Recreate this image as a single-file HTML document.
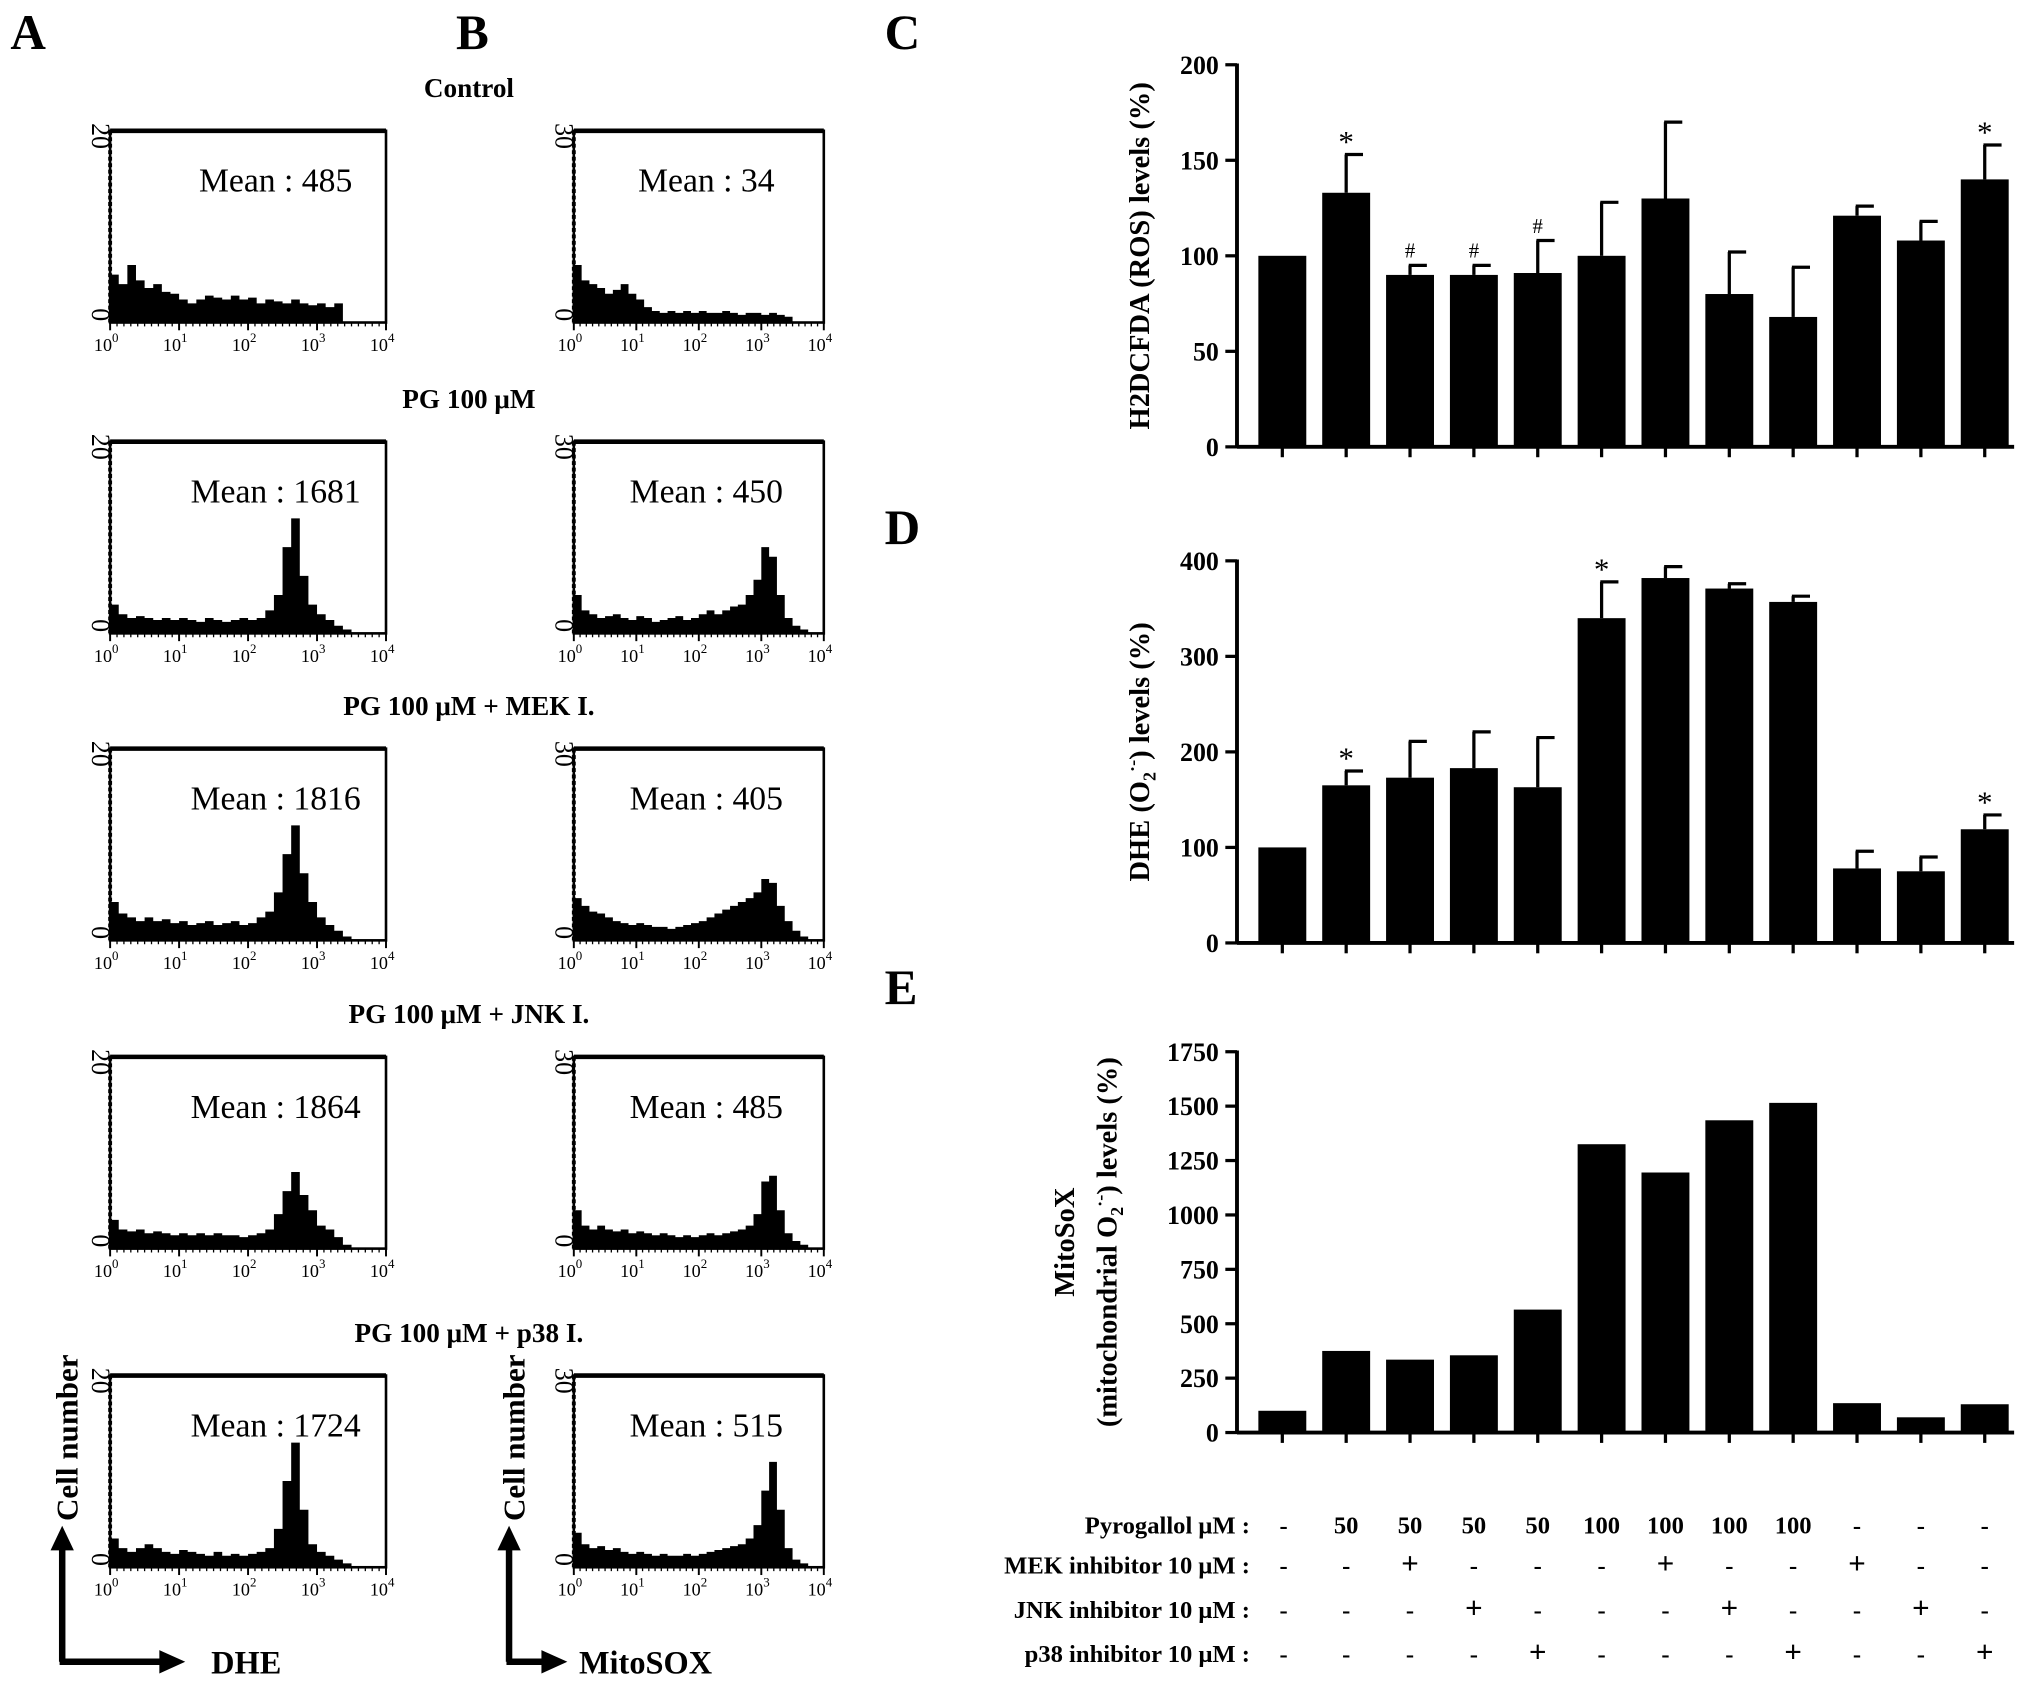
<!DOCTYPE html>
<html><head><meta charset="utf-8"><style>
html,body{margin:0;padding:0;background:#fff}
svg{display:block}
text{font-family:"Liberation Serif",serif;fill:#000}
</style></head><body>
<svg id="fig" width="2031" height="1689" viewBox="0 0 1568 1304" xmlns="http://www.w3.org/2000/svg">
<g font-weight="bold" font-size="38">
<text x="8" y="38">A</text>
<text x="352" y="38">B</text>
<text x="683" y="38">C</text>
<text x="683" y="420">D</text>
<text x="683" y="775">E</text>
</g>
<g id="hist"></g>
<g id="bars"></g>
<g id="table" font-weight="bold" font-size="19"></g>
</svg>
<script>
const NS='http://www.w3.org/2000/svg';
function el(tag,attrs,parent,txt){const e=document.createElementNS(NS,tag);for(const k in attrs)e.setAttribute(k,attrs[k]);if(txt!==undefined)e.textContent=txt;parent.appendChild(e);return e;}

// ---------- Histogram data (bin heights as fraction of box height, 32 bins over 10^0..10^4) ----------
const rowTitles=['Control','PG 100 μM','PG 100 μM + MEK I.','PG 100 μM + JNK I.','PG 100 μM + p38 I.'];
const dheMeans=[485,1681,1816,1864,1724];
const mitoMeans=[34,450,405,485,515];
const dheHist=[
[0.25,0.2,0.3,0.22,0.18,0.2,0.16,0.15,0.12,0.1,0.12,0.14,0.13,0.12,0.14,0.12,0.13,0.1,0.12,0.11,0.1,0.12,0.1,0.09,0.1,0.08,0.1,0,0,0,0,0],
[0.15,0.1,0.08,0.09,0.08,0.07,0.08,0.07,0.08,0.07,0.06,0.08,0.07,0.06,0.07,0.08,0.07,0.08,0.12,0.2,0.45,0.6,0.3,0.15,0.1,0.07,0.04,0.02,0,0,0,0],
[0.2,0.14,0.12,0.1,0.12,0.1,0.11,0.09,0.1,0.08,0.09,0.1,0.08,0.09,0.1,0.08,0.09,0.12,0.15,0.25,0.45,0.6,0.35,0.2,0.12,0.08,0.05,0.02,0,0,0,0],
[0.15,0.1,0.09,0.1,0.08,0.09,0.08,0.07,0.08,0.07,0.08,0.07,0.08,0.07,0.07,0.06,0.07,0.08,0.1,0.18,0.3,0.4,0.28,0.2,0.12,0.1,0.06,0.02,0,0,0,0],
[0.15,0.1,0.08,0.1,0.12,0.1,0.08,0.07,0.09,0.08,0.07,0.06,0.08,0.06,0.07,0.06,0.07,0.08,0.1,0.2,0.45,0.65,0.3,0.12,0.08,0.06,0.04,0.02,0,0,0,0]
];
const mitoHist=[
[0.3,0.22,0.2,0.18,0.15,0.17,0.2,0.15,0.12,0.08,0.06,0.05,0.06,0.05,0.06,0.05,0.06,0.05,0.05,0.06,0.05,0.04,0.05,0.05,0.04,0.05,0.04,0.03,0,0,0,0],
[0.2,0.12,0.1,0.08,0.09,0.1,0.08,0.07,0.09,0.08,0.06,0.07,0.08,0.09,0.07,0.08,0.1,0.12,0.1,0.12,0.14,0.15,0.2,0.28,0.45,0.4,0.2,0.08,0.04,0.02,0,0],
[0.22,0.18,0.15,0.14,0.12,0.1,0.09,0.08,0.09,0.08,0.07,0.07,0.06,0.07,0.08,0.09,0.1,0.12,0.14,0.16,0.18,0.2,0.22,0.25,0.32,0.3,0.18,0.1,0.05,0.02,0,0],
[0.2,0.12,0.1,0.12,0.1,0.09,0.1,0.08,0.09,0.08,0.07,0.08,0.07,0.06,0.07,0.06,0.07,0.08,0.07,0.08,0.09,0.1,0.12,0.18,0.35,0.38,0.2,0.08,0.04,0.02,0,0],
[0.18,0.12,0.1,0.11,0.09,0.1,0.08,0.07,0.08,0.07,0.06,0.07,0.06,0.06,0.07,0.06,0.07,0.08,0.09,0.1,0.11,0.12,0.15,0.22,0.4,0.55,0.3,0.1,0.04,0.02,0,0]
];
const xTickExp=['0','1','2','3','4'];
const boxTops=[101,341,578,816,1062];
const boxH=148;
const colA={x0:85,x1:298,ymax:'20',mx:0.6}, colB={x0:443,x1:636,ymax:'30',mx:0.53};

const hg=document.getElementById('hist');
function drawHist(col,top,vals,mean,name){
  const g=el('g',{},hg);
  
  
  const w=col.x1-col.x0, n=vals.length, bot=top+boxH;
  let d='M'+col.x0+','+bot;
  vals.forEach((v,i)=>{const xa=col.x0+w*i/n, xb=col.x0+w*(i+1)/n, y=bot-v*boxH;d+=' L'+xa+','+y+' L'+xb+','+y;});
  d+=' L'+col.x1+','+bot+' Z';
  const p=el('path',{d:d,fill:'#000'},g);
  
  const r=el('rect',{x:col.x0,y:top,width:w,height:boxH,fill:'none',stroke:'#000','stroke-width':2},g);
  
  el('line',{x1:col.x0,y1:top,x2:col.x1,y2:top,stroke:'#000','stroke-width':3.5},g);
  el('line',{x1:col.x0,y1:top,x2:col.x0,y2:bot,stroke:'#000','stroke-width':3,'stroke-dasharray':'3,2'},g);
  const t=el('text',{x:col.x0+w*col.mx,y:top+47,'font-size':26,'text-anchor':'middle'},g,'Mean : '+mean);
  
  const yl=el('text',{x:0,y:0,'font-size':20,transform:'translate('+(col.x0-14)+','+(top+4)+') rotate(90)','text-anchor':'middle'},g,col.ymax);
  
  const y0=el('text',{x:0,y:0,'font-size':20,transform:'translate('+(col.x0-14)+','+(bot-6)+') rotate(90)','text-anchor':'middle'},g,'0');
  
  xTickExp.forEach((e,i)=>{
    const x=col.x0+w*i/4;
    el('line',{x1:x,y1:bot,x2:x,y2:bot+6,stroke:'#000','stroke-width':1.5},g);
    const tx=el('text',{x:x-3,y:bot+22,'font-size':14,'text-anchor':'middle'},g);
    
    el('tspan',{},tx,'10');el('tspan',{'font-size':10,dy:-7},tx,e);
  });
  for(let i=0;i<40;i++){const x=col.x0+w*i/40;el('line',{x1:x,y1:bot,x2:x,y2:bot+3,stroke:'#000','stroke-width':1},g);}
}
rowTitles.forEach((t,i)=>{
  const tt=el('text',{x:362,y:boxTops[i]-26,'font-size':21,'font-weight':'bold','text-anchor':'middle'},hg,t);
  
  drawHist(colA,boxTops[i],dheHist[i],dheMeans[i],'dhe-histogram');
  drawHist(colB,boxTops[i],mitoHist[i],mitoMeans[i],'mitosox-histogram');
});
// axis arrows
function arrowAxes(x,len,label,lx){
  const g=el('g',{},hg);
  
  el('path',{d:'M'+x+',1283 L'+x+',1195 M'+(x-2)+',1283 L'+(x+len-18)+',1283',stroke:'#000','stroke-width':5,fill:'none'},g);
  el('path',{d:'M'+(x-9)+',1197 L'+x+',1178 L'+(x+9)+',1197 Z',fill:'#000'},g);
  el('path',{d:'M'+(x+len-20)+',1274 L'+(x+len)+',1283 L'+(x+len-20)+',1292 Z',fill:'#000'},g);
  const c=el('text',{x:0,y:0,'font-size':24,'font-weight':'bold',transform:'translate('+(x+12)+',1110) rotate(-90)','text-anchor':'middle'},g,'Cell number');
  
  const l=el('text',{x:lx,y:1292,'font-size':25,'font-weight':'bold'},g,label);
  
}
arrowAxes(48,95,'DHE',163);
arrowAxes(393,45,'MitoSOX',447);

// ---------- Bar charts ----------
const conditions=['Control','PG50','PG50+MEK','PG50+JNK','PG50+p38','PG100','PG100+MEK','PG100+JNK','PG100+p38','MEK','JNK','p38'];
const rosVals=[100,133,90,90,91,100,130,80,68,121,108,140];
const rosErr=[0,20,5,5,17,28,40,22,26,5,10,18];
const rosMarks=['','*','#','#','#','','','','','','','*'];
const dheVals=[100,165,173,183,163,340,382,371,357,78,75,119];
const dheErr=[0,15,38,38,52,38,12,5,6,18,15,15];
const dheMarks=['','*','','','','*','','','','','','*'];
const mitoVals=[100,375,335,355,565,1325,1195,1435,1515,135,70,130];
const rosTicks=[0,50,100,150,200];
const dheTicks=[0,100,200,300,400];
const mitoTicks=[0,250,500,750,1000,1250,1500,1750];

const bg=document.getElementById('bars');
const axX0=955, axX1=1555;
function xCenter(i){return 990+i*49.3;}
function drawBars(cfg){
  const g=el('g',{},bg);
  
  const max=cfg.ticks[cfg.ticks.length-1];
  const yS=v=>cfg.y0-(v/max)*(cfg.y0-cfg.yTop);
  cfg.vals.forEach((v,i)=>{
    const cx=xCenter(i), bw=37;
    if(cfg.err&&cfg.err[i]>0){
      const ye=yS(v+cfg.err[i]);
      el('line',{x1:cx,y1:yS(v),x2:cx,y2:ye,stroke:'#000','stroke-width':2.5},g);
      el('line',{x1:cx-1,y1:ye,x2:cx+13,y2:ye,stroke:'#000','stroke-width':2.5},g);
    }
    const b=el('rect',{x:cx-bw/2,y:yS(v),width:bw,height:cfg.y0-yS(v),fill:'#000'},g);
    
    if(cfg.marks&&cfg.marks[i]){
      const top=yS(v+(cfg.err?cfg.err[i]:0));
      const m=el('text',{x:cx,y:top-(cfg.marks[i]==='*'?2:6),'font-size':cfg.marks[i]==='*'?24:16,'text-anchor':'middle'},g,cfg.marks[i]);
      
    }
    el('line',{x1:cx,y1:cfg.y0,x2:cx,y2:cfg.y0+8,stroke:'#000','stroke-width':2.5},g);
  });
  el('line',{x1:axX0,y1:cfg.yTop-1,x2:axX0,y2:cfg.y0,stroke:'#000','stroke-width':3},g);
  el('line',{x1:axX0,y1:cfg.y0,x2:axX1,y2:cfg.y0,stroke:'#000','stroke-width':3},g);
  cfg.ticks.forEach(t=>{
    const y=yS(t);
    el('line',{x1:axX0-9,y1:y,x2:axX0,y2:y,stroke:'#000','stroke-width':2.5},g);
    const tl=el('text',{x:axX0-14,y:y+7,'font-size':20,'font-weight':'bold','text-anchor':'end'},g,String(t));
    
  });
  cfg.title(g,(cfg.y0+cfg.yTop)/2);
}
drawBars({name:'chart-c-ros',vals:rosVals,err:rosErr,marks:rosMarks,ticks:rosTicks,y0:345,yTop:50,title:(g,cy)=>{
  const t=el('text',{x:0,y:0,'font-size':22,'font-weight':'bold','text-anchor':'middle',transform:'translate(887,'+cy+') rotate(-90)'},g,'H2DCFDA (ROS) levels (%)');
  }});
drawBars({name:'chart-d-dhe',vals:dheVals,err:dheErr,marks:dheMarks,ticks:dheTicks,y0:728,yTop:433,title:(g,cy)=>{
  const t=el('text',{x:0,y:0,'font-size':22,'font-weight':'bold','text-anchor':'middle',transform:'translate(887,'+cy+') rotate(-90)'},g);
  
  el('tspan',{},t,'DHE (O');el('tspan',{'font-size':14,dy:5},t,'2');el('tspan',{'font-size':14,dy:-13},t,'·-');el('tspan',{dy:8},t,') levels (%)');}});
drawBars({name:'chart-e-mitosox',vals:mitoVals,ticks:mitoTicks,y0:1106,yTop:812,title:(g,cy)=>{
  const t=el('text',{x:0,y:0,'font-size':22,'font-weight':'bold','text-anchor':'middle',transform:'translate(829,'+cy+') rotate(-90)'},g,'MitoSoX');
  
  const t2=el('text',{x:0,y:0,'font-size':22,'font-weight':'bold','text-anchor':'middle',transform:'translate(862,'+cy+') rotate(-90)'},g);
  
  el('tspan',{},t2,'(mitochondrial O');el('tspan',{'font-size':14,dy:5},t2,'2');el('tspan',{'font-size':14,dy:-13},t2,'·-');el('tspan',{dy:8},t2,') levels (%)');}});

// ---------- Treatment table ----------
const rowLabels=['Pyrogallol μM :','MEK inhibitor 10 μM :','JNK inhibitor 10 μM :','p38 inhibitor 10 μM :'];
const rowY=[1184,1215,1249,1283];
const pyro=['-','50','50','50','50','100','100','100','100','-','-','-'];
const mek=['-','-','+','-','-','-','+','-','-','+','-','-'];
const jnk=['-','-','-','+','-','-','-','+','-','-','+','-'];
const p38=['-','-','-','-','+','-','-','-','+','-','-','+'];
const tg=document.getElementById('table');
[pyro,mek,jnk,p38].forEach((row,r)=>{
  const l=el('text',{x:965,y:rowY[r],'text-anchor':'end'},tg,rowLabels[r]);
  
  row.forEach((v,i)=>{
    const c=el('text',{x:xCenter(i)+(i===0?1:0),y:rowY[r],'text-anchor':'middle','font-size':v==='+'?24:19},tg,v);
    
  });
});
</script>
</body></html>
